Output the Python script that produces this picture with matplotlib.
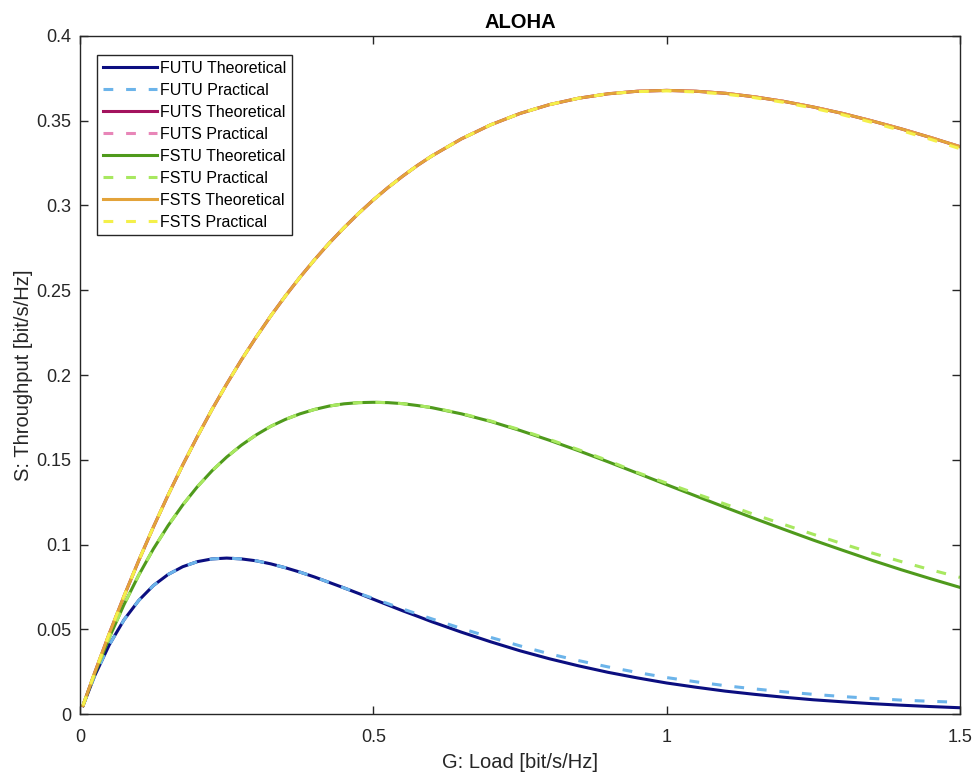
import matplotlib.pyplot as plt

plt.rcParams['font.family'] = ['Liberation Sans', 'DejaVu Sans']

# load values G [bit/s/Hz]
G = [0.005, 0.025, 0.05, 0.075, 0.10, 0.125, 0.15, 0.175, 0.20, 0.225, 0.25,
     0.275, 0.30, 0.325, 0.35, 0.375, 0.40, 0.425, 0.45, 0.475, 0.50,
     0.525, 0.55, 0.575, 0.60, 0.65, 0.70, 0.75, 0.80, 0.85, 0.90, 0.95, 1.00,
     1.05, 1.10, 1.15, 1.20, 1.25, 1.30, 1.35, 1.40, 1.45, 1.50]

futu_theo = [0.0049, 0.0226, 0.0409, 0.0556, 0.0670, 0.0758, 0.0823, 0.0869, 0.0899, 0.0915, 0.0920,
             0.0915, 0.0904, 0.0886, 0.0863, 0.0837, 0.0808, 0.0776, 0.0744, 0.0711, 0.0677,
             0.0643, 0.0609, 0.0577, 0.0544, 0.0483, 0.0426, 0.0373, 0.0326, 0.0284, 0.0246, 0.0213, 0.0183,
             0.0158, 0.0135, 0.0116, 0.0099, 0.0084, 0.0072, 0.0061, 0.0052, 0.0044, 0.0037]
futu_prac = [0.0049, 0.0226, 0.0409, 0.0556, 0.0670, 0.0758, 0.0823, 0.0869, 0.0899, 0.0915, 0.0920,
             0.0915, 0.0904, 0.0886, 0.0863, 0.0837, 0.0808, 0.0776, 0.0744, 0.0712, 0.0682,
             0.0651, 0.0620, 0.0590, 0.0561, 0.0505, 0.0452, 0.0402, 0.0355, 0.0315, 0.0278, 0.0245, 0.0215,
             0.0190, 0.0167, 0.0148, 0.0131, 0.0116, 0.0103, 0.0092, 0.0082, 0.0075, 0.0069]

futs_theo = [0.0050, 0.0244, 0.0476, 0.0696, 0.0905, 0.1103, 0.1291, 0.1469, 0.1637, 0.1797, 0.1947,
             0.2089, 0.2222, 0.2348, 0.2466, 0.2577, 0.2681, 0.2779, 0.2869, 0.2954, 0.3033,
             0.3106, 0.3173, 0.3236, 0.3293, 0.3393, 0.3476, 0.3543, 0.3595, 0.3633, 0.3659, 0.3674, 0.3679,
             0.3674, 0.3662, 0.3641, 0.3614, 0.3581, 0.3543, 0.3499, 0.3452, 0.3401, 0.3347]
futs_prac = list(futs_theo)

fstu_theo = [0.0050, 0.0238, 0.0452, 0.0646, 0.0819, 0.0974, 0.1111, 0.1233, 0.1341, 0.1435, 0.1516,
             0.1586, 0.1646, 0.1697, 0.1738, 0.1771, 0.1797, 0.1817, 0.1830, 0.1837, 0.1839,
             0.1837, 0.1831, 0.1820, 0.1807, 0.1771, 0.1726, 0.1673, 0.1615, 0.1553, 0.1488, 0.1421, 0.1353,
             0.1286, 0.1219, 0.1153, 0.1089, 0.1026, 0.0966, 0.0907, 0.0851, 0.0798, 0.0747]
fstu_prac = [0.0050, 0.0238, 0.0452, 0.0646, 0.0819, 0.0974, 0.1111, 0.1233, 0.1341, 0.1435, 0.1516,
             0.1586, 0.1646, 0.1697, 0.1738, 0.1771, 0.1797, 0.1817, 0.1830, 0.1837, 0.1839,
             0.1837, 0.1831, 0.1820, 0.1808, 0.1773, 0.1729, 0.1677, 0.1620, 0.1559, 0.1495, 0.1425, 0.1362,
             0.1300, 0.1238, 0.1176, 0.1118, 0.1060, 0.1004, 0.0950, 0.0899, 0.0851, 0.0806]

fsts_theo = list(futs_theo)
fsts_prac = [0.0050, 0.0244, 0.0476, 0.0696, 0.0905, 0.1103, 0.1291, 0.1469, 0.1637, 0.1797, 0.1947,
             0.2089, 0.2222, 0.2348, 0.2466, 0.2577, 0.2681, 0.2779, 0.2869, 0.2954, 0.3033,
             0.3106, 0.3173, 0.3236, 0.3293, 0.3393, 0.3476, 0.3543, 0.3595, 0.3633, 0.3659, 0.3672, 0.3676,
             0.3670, 0.3657, 0.3636, 0.3608, 0.3574, 0.3535, 0.3490, 0.3442, 0.3390, 0.3335]

fig = plt.figure(figsize=(9.75, 7.74), dpi=100)
ax = fig.add_axes([0.0821, 0.0775, 0.9025, 0.876])

lw = 2.2
dash = (0, (3.2, 4.2))
ax.plot(G, futu_theo, color='#0b0e80', lw=lw, label='FUTU Theoretical')
ax.plot(G, futu_prac, color='#6cb4ea', lw=lw, ls=dash, label='FUTU Practical')
ax.plot(G, futs_theo, color='#a3135e', lw=lw, label='FUTS Theoretical')
ax.plot(G, futs_prac, color='#e886b8', lw=lw, ls=dash, label='FUTS Practical')
ax.plot(G, fstu_theo, color='#4f9a1c', lw=lw, label='FSTU Theoretical')
ax.plot(G, fstu_prac, color='#a8e860', lw=lw, ls=dash, label='FSTU Practical')
ax.plot(G, fsts_theo, color='#e3a33a', lw=lw, label='FSTS Theoretical')
ax.plot(G, fsts_prac, color='#f4f04a', lw=lw, ls=dash, label='FSTS Practical')

ax.set_xlim(0, 1.5)
ax.set_ylim(0, 0.4)
ax.set_xticks([0, 0.5, 1, 1.5])
ax.set_xticklabels(['0', '0.5', '1', '1.5'])
ax.set_yticks([0, 0.05, 0.1, 0.15, 0.2, 0.25, 0.3, 0.35, 0.4])
ax.set_yticklabels(['0', '0.05', '0.1', '0.15', '0.2', '0.25', '0.3', '0.35', '0.4'])
ax.tick_params(direction='in', length=6, width=1, colors='#262626', labelsize=13,
               top=True, right=True)
ax.tick_params(axis='x', pad=11)
ax.tick_params(axis='y', pad=6)
for s in ax.spines.values():
    s.set_color('#262626')
    s.set_linewidth(1)

ax.set_xlabel('G: Load [bit/s/Hz]', fontsize=14.5, color='#262626', labelpad=5)
ax.set_ylabel('S: Throughput [bit/s/Hz]', fontsize=14.5, color='#262626', labelpad=2.5)
ax.set_title('ALOHA', fontsize=14.5, fontweight='bold', pad=6)

leg = ax.legend(loc='upper left', bbox_to_anchor=(0.0193, 0.972), borderaxespad=0,
                fontsize=11.5, handlelength=3.4, handletextpad=0.2, labelspacing=0.44,
                borderpad=0.35, fancybox=False, framealpha=1, edgecolor='#262626')
leg.get_frame().set_linewidth(1)

fig.savefig('out.png', dpi=100)
